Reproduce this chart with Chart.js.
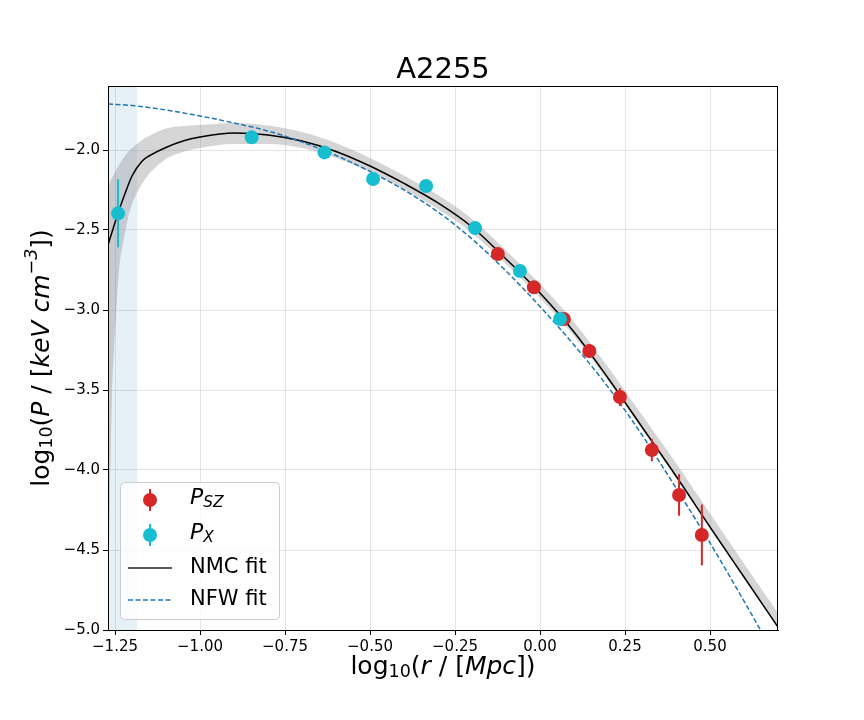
<!DOCTYPE html>
<html>
<head>
<meta charset="utf-8">
<script src="https://cdn.jsdelivr.net/npm/chart.js@4.4.1/dist/chart.umd.min.js"></script>
<style>
  body { margin: 0; background: #fff; }
  #chart { display: block; }
</style>
</head>
<body>
<canvas id="chart" width="864" height="720"></canvas>
<script>
// tick positions
const xTicks = [-1.25, -1.0, -0.75, -0.5, -0.25, 0.0, 0.25, 0.5];
const yTicks = [-5.0, -4.5, -4.0, -3.5, -3.0, -2.5, -2.0];

// SZ pressure points
const rSZ = [-0.124, -0.018, 0.070, 0.145, 0.235, 0.329, 0.409, 0.476];
const pSZ = [-2.650, -2.858, -3.056, -3.256, -3.544, -3.875, -4.156, -4.406];
const pSZErr = [0.03, 0.03, 0.03, 0.044, 0.056, 0.07, 0.13, 0.19];

// X-ray pressure points
const rX = [-1.241, -0.848, -0.634, -0.491, -0.335, -0.191, -0.059, 0.059];
const pX = [-2.396, -1.921, -2.015, -2.181, -2.225, -2.488, -2.756, -3.056];
const pXErr = [0.2125, 0.02, 0.02, 0.02, 0.02, 0.02, 0.02, 0.02];

// NMC fit
const nmcR = [-1.2706, -1.255, -1.24, -1.22, -1.2, -1.17, -1.15, -1.1, -1.05, -1.0,
  -0.9, -0.8, -0.7, -0.6, -0.5, -0.4, -0.3, -0.2, -0.1, 0.0,
  0.1, 0.2, 0.3, 0.4, 0.5, 0.6, 0.7];
const nmcP = [-2.594, -2.4875, -2.3875, -2.269, -2.1625, -2.069, -2.0375, -1.984, -1.944, -1.919,
  -1.894, -1.906, -1.944, -2.009, -2.1, -2.209, -2.331, -2.481, -2.681, -2.894,
  -3.1375, -3.425, -3.731, -4.0375, -4.356, -4.669, -4.981];

// NMC uncertainty band
const bandR = [-1.2706, -1.2676, -1.2647, -1.2588, -1.2529, -1.2471, -1.2382, -1.2235, -1.2118, -1.2,
  -1.1853, -1.1706, -1.15, -1.1, -1.05, -1.0, -0.9, -0.8, -0.7, -0.6,
  -0.5, -0.4, -0.3, -0.2, -0.1, 0.0, 0.1, 0.2, 0.3, 0.4,
  0.5, 0.6, 0.7];
const bandHi = [-2.2375, -2.2188, -2.2, -2.175, -2.15, -2.125, -2.0938, -2.0438, -2.0125, -1.9875,
  -1.9625, -1.9375, -1.9125, -1.8656, -1.85, -1.8438, -1.8313, -1.8469, -1.8875, -1.9563,
  -2.05, -2.159, -2.2813, -2.4313, -2.628, -2.8375, -3.075, -3.3563, -3.6563, -3.9563,
  -4.272, -4.584, -4.8938];
const bandLo = [-5.0, -4.5125, -4.1688, -3.5438, -3.25, -3.0438, -2.75, -2.55, -2.425, -2.3375,
  -2.2688, -2.2125, -2.15, -2.0563, -2.0125, -1.9875, -1.9625, -1.9625, -1.9875, -2.05,
  -2.1375, -2.247, -2.3688, -2.5188, -2.7125, -2.925, -3.1625, -3.4438, -3.7438, -4.05,
  -4.3656, -4.678, -4.9906];

// NFW fit
const nfwR = [-1.2706, -1.2, -1.1, -1.0, -0.9, -0.8, -0.7, -0.6, -0.5, -0.4,
  -0.3, -0.2, -0.1, 0.0, 0.1, 0.2, 0.3, 0.4, 0.5, 0.6, 0.7];
const nfwP = [-1.7125, -1.7219, -1.75, -1.7875, -1.8313, -1.8813, -1.95, -2.034, -2.134, -2.25,
  -2.3875, -2.556, -2.756, -2.978, -3.219, -3.481, -3.781, -4.1125, -4.456, -4.819, -5.194];

// shaded inner region
const spanR = [-1.2706, -1.185];

const RED = '#d62728';
const CYAN = '#17becf';
const BLUE = '#1f77b4';
const FONT = '"DejaVu Sans", sans-serif';

const pts = (xs, ys) => xs.map((x, i) => ({ x: x, y: ys[i] }));
const fmt = (v, d) => (v < 0 ? '\u2212' : '') + Math.abs(v).toFixed(d);

// draw text made of runs with italic / sub / sup parts
function richWidth(ctx, runs, size) {
  let w = 0;
  runs.forEach(r => {
    const s = (r.sub || r.sup) ? size * 0.7 : size;
    ctx.font = (r.it ? 'italic ' : '') + s + 'px ' + FONT;
    w += ctx.measureText(r.t).width;
  });
  return w;
}
function drawRich(ctx, runs, x, y, size, align) {
  let cx = align === 'center' ? x - richWidth(ctx, runs, size) / 2 : x;
  ctx.textBaseline = 'middle';
  ctx.textAlign = 'left';
  ctx.fillStyle = '#000';
  runs.forEach(r => {
    const s = (r.sub || r.sup) ? size * 0.7 : size;
    const dy = r.sub ? size * 0.22 : (r.sup ? -size * 0.38 : 0);
    ctx.font = (r.it ? 'italic ' : '') + s + 'px ' + FONT;
    ctx.fillText(r.t, cx, y + dy);
    cx += ctx.measureText(r.t).width;
  });
}

const decorations = {
  id: 'decorations',
  beforeDatasetsDraw(chart) {
    const { ctx, chartArea: a, scales: { x } } = chart;
    const x0 = Math.max(a.left, x.getPixelForValue(spanR[0]));
    const x1 = x.getPixelForValue(spanR[1]);
    ctx.save();
    ctx.fillStyle = 'rgba(31,119,180,0.11)';
    ctx.fillRect(x0, a.top, x1 - x0, a.bottom - a.top);
    ctx.restore();
  },
  beforeDatasetDraw(chart, args) {
    const ds = chart.data.datasets[args.index];
    if (!ds.errors) return;
    const { ctx, chartArea: a, scales: { x, y } } = chart;
    ctx.save();
    ctx.beginPath();
    ctx.rect(a.left, a.top, a.right - a.left, a.bottom - a.top);
    ctx.clip();
    ctx.strokeStyle = ds.backgroundColor;
    ctx.lineWidth = 2;
    ds.data.forEach((p, i) => {
      const px = x.getPixelForValue(p.x);
      ctx.beginPath();
      ctx.moveTo(px, y.getPixelForValue(p.y - ds.errors[i]));
      ctx.lineTo(px, y.getPixelForValue(p.y + ds.errors[i]));
      ctx.stroke();
    });
    ctx.restore();
  },
  afterDatasetsDraw(chart) {
    const { ctx, chartArea: a } = chart;
    ctx.save();
    ctx.strokeStyle = '#000';
    ctx.lineWidth = 1;
    ctx.strokeRect(a.left + 0.5, a.top + 0.5, a.right - a.left - 1, a.bottom - a.top);
    ctx.restore();
  },
  afterDraw(chart) {
    const ctx = chart.ctx;
    ctx.save();
    // title
    ctx.font = '29px ' + FONT;
    ctx.fillStyle = '#000';
    ctx.textAlign = 'center';
    ctx.textBaseline = 'middle';
    ctx.fillText('A2255', 443, 70);

    // axis labels
    drawRich(ctx, [{ t: 'log' }, { t: '10', sub: true }, { t: '(' }, { t: 'r', it: true },
      { t: ' / [' }, { t: 'Mpc', it: true }, { t: '])' }], 443, 667, 25, 'center');
    ctx.save();
    ctx.translate(42, 358);
    ctx.rotate(-Math.PI / 2);
    drawRich(ctx, [{ t: 'log' }, { t: '10', sub: true }, { t: '(' }, { t: 'P', it: true },
      { t: ' / [' }, { t: 'keV', it: true }, { t: ' ' }, { t: 'cm', it: true },
      { t: '\u22123', sup: true, it: true }, { t: '])' }], 0, 0, 25, 'center');
    ctx.restore();

    // legend
    const lx = 120, ly = 482, lw = 159, lh = 137;
    ctx.beginPath();
    ctx.roundRect(lx + 0.5, ly + 0.5, lw, lh, 4);
    ctx.fillStyle = 'rgba(255,255,255,0.8)';
    ctx.fill();
    ctx.strokeStyle = '#cccccc';
    ctx.lineWidth = 1;
    ctx.stroke();

    const rows = [500, 535, 568, 600];
    [[RED, 'SZ'], [CYAN, 'X']].forEach((m, i) => {
      const cy = rows[i];
      ctx.strokeStyle = m[0];
      ctx.lineWidth = 2;
      ctx.beginPath();
      ctx.moveTo(150, cy - 11);
      ctx.lineTo(150, cy + 11);
      ctx.stroke();
      ctx.fillStyle = m[0];
      ctx.beginPath();
      ctx.arc(150, cy, 7, 0, Math.PI * 2);
      ctx.fill();
      drawRich(ctx, [{ t: 'P', it: true }, { t: m[1], sub: true, it: true }], 190, cy - 2, 22, 'left');
    });
    ctx.lineWidth = 1.5;
    ctx.strokeStyle = '#222';
    ctx.beginPath();
    ctx.moveTo(128, rows[2]);
    ctx.lineTo(172, rows[2]);
    ctx.stroke();
    ctx.strokeStyle = BLUE;
    ctx.setLineDash([5, 2.5]);
    ctx.beginPath();
    ctx.moveTo(128, rows[3]);
    ctx.lineTo(172, rows[3]);
    ctx.stroke();
    ctx.setLineDash([]);
    drawRich(ctx, [{ t: 'NMC fit' }], 190, rows[2], 21, 'left');
    drawRich(ctx, [{ t: 'NFW fit' }], 190, rows[3], 21, 'left');
    ctx.restore();
  }
};

new Chart(document.getElementById('chart'), {
  type: 'line',
  data: {
    datasets: [
      {
        label: 'P_X', data: pts(rX, pX), errors: pXErr, showLine: false,
        backgroundColor: CYAN, borderColor: CYAN, pointRadius: 7, pointBorderWidth: 0, order: 0
      },
      {
        label: 'P_SZ', data: pts(rSZ, pSZ), errors: pSZErr, showLine: false,
        backgroundColor: RED, borderColor: RED, pointRadius: 7, pointBorderWidth: 0, order: 1
      },
      {
        label: 'NFW fit', data: pts(nfwR, nfwP), borderColor: BLUE, borderWidth: 1.5,
        borderDash: [5, 2.5], pointRadius: 0, cubicInterpolationMode: 'monotone', fill: false, order: 2
      },
      {
        label: 'NMC fit', data: pts(nmcR, nmcP), borderColor: '#000', borderWidth: 1.5,
        pointRadius: 0, cubicInterpolationMode: 'monotone', fill: false, order: 3
      },
      {
        label: 'band hi', data: pts(bandR, bandHi), borderWidth: 0, borderColor: 'rgba(0,0,0,0)',
        backgroundColor: 'rgba(128,128,128,0.33)', pointRadius: 0,
        cubicInterpolationMode: 'monotone', fill: '+1', order: 4
      },
      {
        label: 'band lo', data: pts(bandR, bandLo), borderWidth: 0, borderColor: 'rgba(0,0,0,0)',
        pointRadius: 0, cubicInterpolationMode: 'monotone', fill: false, order: 5
      }
    ]
  },
  options: {
    responsive: false,
    animation: false,
    devicePixelRatio: 1,
    events: [],
    layout: { padding: { top: 86, right: 86, left: 0, bottom: 0 } },
    plugins: { legend: { display: false }, title: { display: false }, tooltip: { enabled: false } },
    scales: {
      x: {
        type: 'linear', min: -1.2706, max: 0.70,
        afterBuildTicks: s => { s.ticks = xTicks.map(v => ({ value: v })); },
        afterFit: s => { s.height = 90; },
        ticks: { callback: v => fmt(v, 2), font: { family: FONT, size: 15 }, color: '#000', padding: 3, maxRotation: 0 },
        grid: { color: 'rgba(0,0,0,0.1)', tickColor: '#000', tickLength: 5 },
        border: { color: '#000' }
      },
      y: {
        type: 'linear', min: -5.0, max: -1.6,
        afterBuildTicks: s => { s.ticks = yTicks.map(v => ({ value: v })); },
        afterFit: s => { s.width = 108; },
        ticks: { callback: v => fmt(v, 1), font: { family: FONT, size: 15 }, color: '#000', padding: 3 },
        grid: { color: 'rgba(0,0,0,0.1)', tickColor: '#000', tickLength: 5 },
        border: { color: '#000' }
      }
    }
  },
  plugins: [decorations]
});
</script>
</body>
</html>
